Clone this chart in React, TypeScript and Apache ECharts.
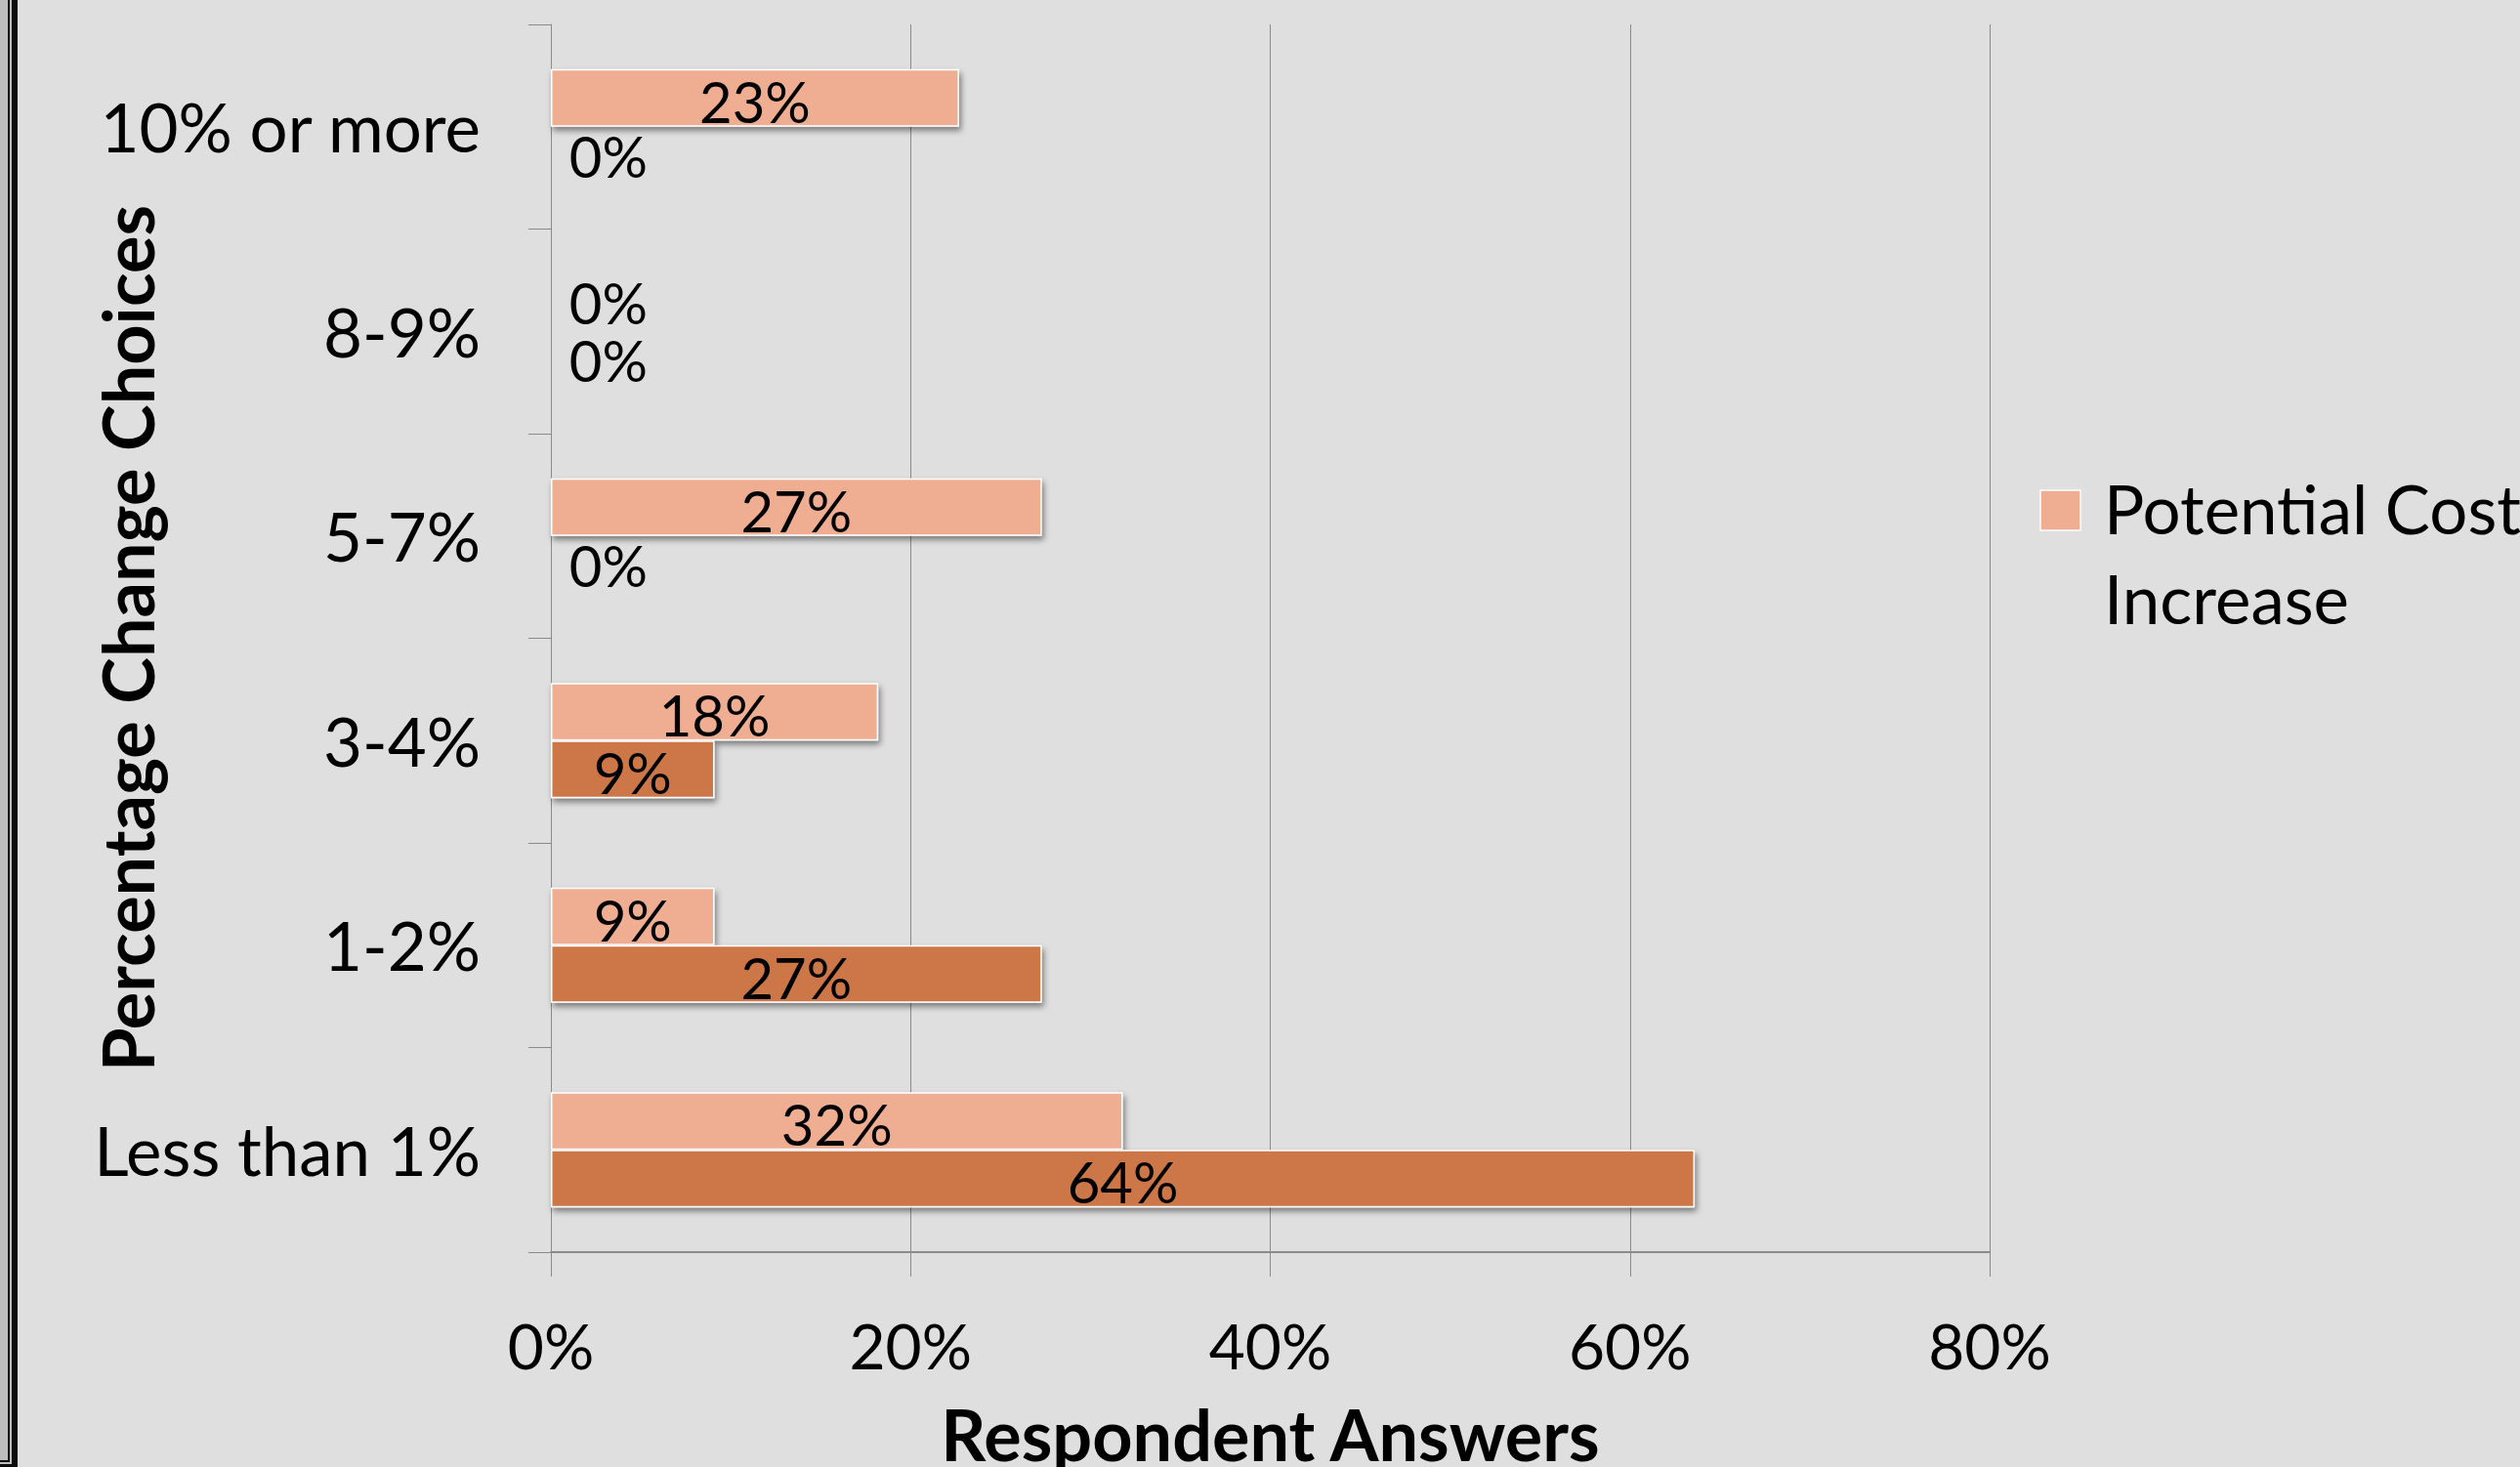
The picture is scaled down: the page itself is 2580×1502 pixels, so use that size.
import React, { useEffect, useRef } from "react";
import * as echarts from "echarts";

const categories = ["Less than 1%", "1-2%", "3-4%", "5-7%", "8-9%", "10% or more"];
const potentialIncrease = [31.8, 9.1, 18.2, 27.3, 0, 22.7];
const secondSeries = [63.6, 27.3, 9.1, 0, 0, 0];
const xTicks = [0, 20, 40, 60, 80];

const LIGHT = "#EFAD92";
const DARK = "#CD7749";
const FONT = "Lato";

function toData(values: number[]) {
  return values.map((v) => ({
    value: v,
    label: v === 0 ? { position: "right", distance: 18 } : { position: "inside", offset: [0, 3] },
  }));
}

export default function App() {
  const ref = useRef<HTMLDivElement>(null);
  useEffect(() => {
    document.body.style.margin = "0";
    const chart = echarts.init(ref.current!, null, { renderer: "svg" });
    const barStyle = {
      borderColor: "#ffffff",
      borderWidth: 1.5,
      shadowColor: "rgba(0,0,0,0.45)",
      shadowBlur: 6,
      shadowOffsetX: 2,
      shadowOffsetY: 4,
    };
    const labelStyle = {
      show: true,
      color: "#000",
      fontFamily: FONT,
      fontSize: 58,
      lineHeight: 44,
      formatter: (p: any) => Math.round(p.value) + "%",
    };
    chart.setOption({
      animation: false,
      backgroundColor: "#DFDFDF",
      textStyle: { fontFamily: FONT },
      grid: {
        left: 564,
        right: 543,
        top: 25,
        bottom: 220,
        containLabel: false,
        outerBoundsMode: "none",
      },
      xAxis: {
        type: "value",
        min: xTicks[0],
        max: xTicks[xTicks.length - 1],
        interval: 20,
        name: "Respondent Answers",
        nameLocation: "middle",
        nameGap: 150,
        nameMoveOverlap: false,
        nameTextStyle: { fontFamily: FONT, fontWeight: "bold", fontSize: 72, color: "#000" },
        axisLine: { show: true, lineStyle: { color: "#8a8a8a", width: 2 } },
        axisTick: { show: true, length: 25, lineStyle: { color: "#8a8a8a", width: 1 } },
        splitLine: { show: true, lineStyle: { color: "#8a8a8a", width: 1 } },
        axisLabel: {
          margin: 63,
          fontFamily: FONT,
          fontSize: 64,
          color: "#000",
          formatter: (v: number) => v + "%",
        },
      },
      yAxis: {
        type: "category",
        data: categories,
        name: "Percentage Change Choices",
        nameLocation: "middle",
        nameGap: 398,
        nameMoveOverlap: false,
        nameRotate: 90,
        nameTextStyle: { fontFamily: FONT, fontWeight: "bold", fontSize: 72, color: "#000" },
        axisLine: { show: true, lineStyle: { color: "#8a8a8a", width: 1 } },
        axisTick: { show: true, length: 23, alignWithLabel: false, lineStyle: { color: "#8a8a8a", width: 1 } },
        splitLine: { show: false },
        axisLabel: { margin: 72, fontFamily: FONT, fontSize: 69, color: "#000" },
      },
      legend: { show: false },
      series: [
        {
          name: "Potential Cost Increase",
          type: "bar",
          data: toData(potentialIncrease),
          barGap: "0%",
          barCategoryGap: "43.7%",
          itemStyle: { color: LIGHT, ...barStyle },
          label: labelStyle,
        },
        {
          name: "Series 2",
          type: "bar",
          data: toData(secondSeries),
          barGap: "0%",
          barCategoryGap: "43.7%",
          itemStyle: { color: DARK, ...barStyle },
          label: labelStyle,
        },
      ],
      graphic: [
        { type: "rect", shape: { x: 0, y: 0, width: 18, height: 1502 }, style: { fill: "#bdbdbd" } },
        { type: "rect", shape: { x: 8, y: 0, width: 2, height: 1497 }, style: { fill: "#0d0d0d" } },
        { type: "rect", shape: { x: 0, y: 1495, width: 10, height: 2 }, style: { fill: "#0d0d0d" } },
        { type: "rect", shape: { x: 12, y: 0, width: 6, height: 1502 }, style: { fill: "#0d0d0d" } },
        { type: "rect", shape: { x: 0, y: 1499, width: 18, height: 3 }, style: { fill: "#0d0d0d" } },
        {
          type: "rect",
          shape: { x: 2089, y: 502, width: 41, height: 41 },
          style: { fill: LIGHT, stroke: "#ffffff", lineWidth: 1.5 },
        },
        {
          type: "text",
          x: 2154,
          y: 474,
          style: {
            text: "Potential Cost\nIncrease",
            fontFamily: FONT,
            fontSize: 69,
            lineHeight: 92,
            fill: "#000",
          },
        },
      ],
    });
    return () => chart.dispose();
  }, []);
  return <div ref={ref} style={{ width: 2580, height: 1502 }} />;
}
